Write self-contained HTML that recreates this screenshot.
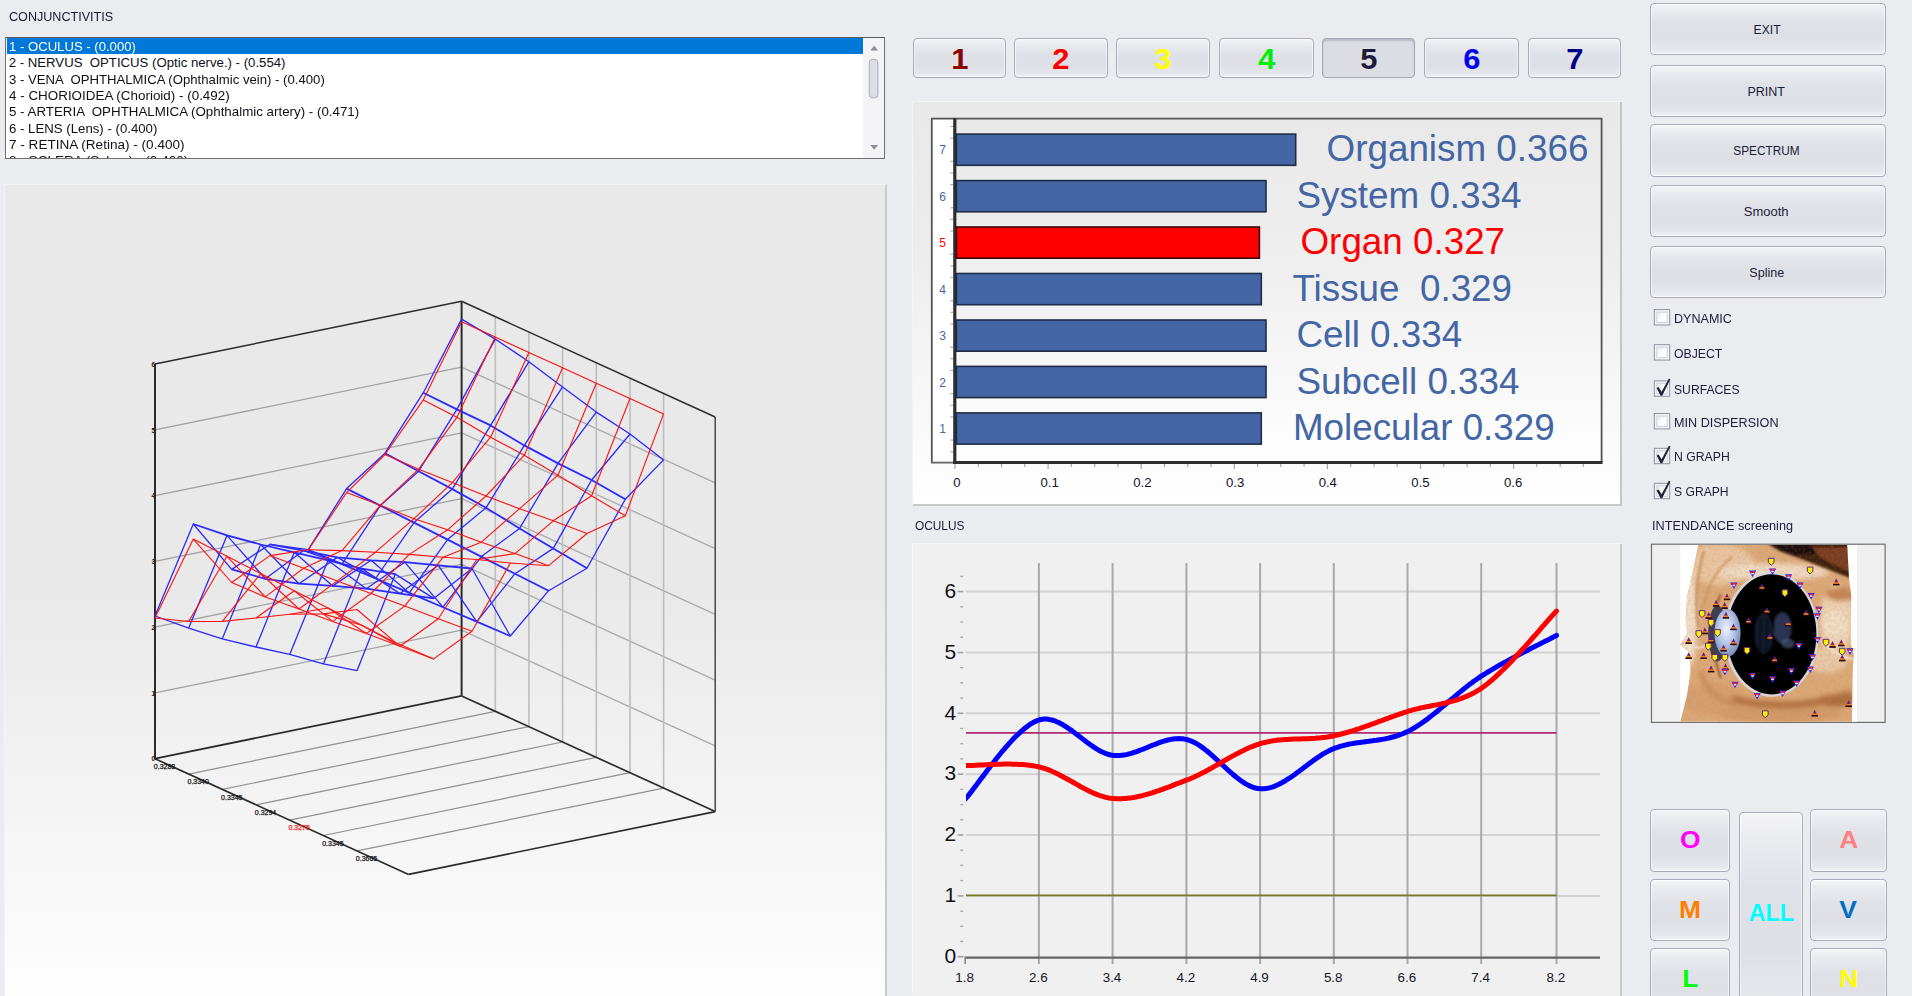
<!DOCTYPE html>
<html><head><meta charset="utf-8"><title>OCULUS</title>
<style>
html,body{margin:0;padding:0}
body{width:1912px;height:996px;overflow:hidden;position:relative;background:#ebecf0;font-family:"Liberation Sans",sans-serif}
.t{position:absolute;white-space:pre;font-family:"Liberation Sans",sans-serif}
.abs{position:absolute}
.btn{position:absolute;box-sizing:border-box;border:1px solid #a9acba;border-radius:4px;text-align:center;
 background:linear-gradient(#f5f5f8 0%,#ebecf0 12%,#dfe1e8 40%,#dee0e6 70%,#e6e7ec 92%,#f2f2f5 100%);
 box-shadow:inset 0 0 0 1px rgba(255,255,255,.55);font-family:"Liberation Sans",sans-serif;overflow:hidden}
.btn.pressed{background:#dcdde2;border-color:#a4a7b4;box-shadow:inset 0 2px 2px rgba(120,124,140,.35)}
svg{position:absolute;left:0;top:0;overflow:visible}
</style></head><body>

<div class="t" style="left:8.7px;top:8.4px;font-size:13.2px;line-height:17.2px;color:#1a1a2e;font-weight:400;transform:scaleX(0.9544);transform-origin:0 50%;">CONJUNCTIVITIS</div>
<div class="abs" style="left:5px;top:37px;width:880px;height:122px;box-sizing:border-box;border:1px solid #6e6e6e;border-top-color:#5a5a5a;background:#fff;overflow:hidden">
<div class="abs" style="left:1px;top:0.4px;width:857px;height:15.8px;background:#0078d7"></div>
<div class="t" style="left:2.7px;top:0.1px;font-size:13.2px;line-height:17px;color:#fff;transform:scaleX(0.995);transform-origin:0 50%">1 - OCULUS - (0.000)</div>
<div class="t" style="left:2.7px;top:16.4px;font-size:13.2px;line-height:17px;color:#101018;transform:scaleX(1.0);transform-origin:0 50%">2 - NERVUS  OPTICUS (Optic nerve.) - (0.554)</div>
<div class="t" style="left:2.7px;top:32.7px;font-size:13.2px;line-height:17px;color:#101018;transform:scaleX(0.9975);transform-origin:0 50%">3 - VENA  OPHTHALMICA (Ophthalmic vein) - (0.400)</div>
<div class="t" style="left:2.7px;top:49.0px;font-size:13.2px;line-height:17px;color:#101018;transform:scaleX(1.0175);transform-origin:0 50%">4 - CHORIOIDEA (Chorioid) - (0.492)</div>
<div class="t" style="left:2.7px;top:65.3px;font-size:13.2px;line-height:17px;color:#101018;transform:scaleX(1.011);transform-origin:0 50%">5 - ARTERIA  OPHTHALMICA (Ophthalmic artery) - (0.471)</div>
<div class="t" style="left:2.7px;top:81.6px;font-size:13.2px;line-height:17px;color:#101018;transform:scaleX(1.002);transform-origin:0 50%">6 - LENS (Lens) - (0.400)</div>
<div class="t" style="left:2.7px;top:97.9px;font-size:13.2px;line-height:17px;color:#101018;transform:scaleX(1.028);transform-origin:0 50%">7 - RETINA (Retina) - (0.400)</div>
<div class="t" style="left:2.7px;top:114.2px;font-size:13.2px;line-height:17px;color:#101018;transform:scaleX(1.028);transform-origin:0 50%">8 - SCLERA (Sclera) - (0.400)</div>
<div class="abs" style="left:857px;top:0;width:22px;height:120px;background:#f4f4f7"></div>
<svg width="880" height="122" viewBox="5 37 880 122" style="left:-1px;top:-1px"><path d="M870.3 50.5 L874.2 45.8 L878.1 50.5 Z" fill="#8a8d9a"/><path d="M870.3 145 L874.2 149.7 L878.1 145 Z" fill="#8a8d9a"/><rect x="869.3" y="59.3" width="8.6" height="38.6" rx="3.5" fill="#dddee4" stroke="#a9acb8" stroke-width="1"/></svg>
</div>
<div class="abs" style="left:4px;top:184px;width:880px;height:812px;background:linear-gradient(#e9e9e9 0%,#e9e9e9 50%,#ffffff 102.4%);border-left:1px solid #f3f3f3;border-top:1px solid #f3f3f3;border-right:2px solid #cbcbcb;box-sizing:content-box"></div>
<svg width="1912" height="996" viewBox="0 0 1912 996">
<line x1="155.0" y1="692.9" x2="461.6" y2="630.1" stroke="#a2a2a2" stroke-width="1.3" />
<line x1="461.6" y1="630.1" x2="715.2" y2="745.8" stroke="#ababab" stroke-width="1.3" />
<line x1="155.0" y1="627.2" x2="461.6" y2="564.4" stroke="#a2a2a2" stroke-width="1.3" />
<line x1="461.6" y1="564.4" x2="715.2" y2="680.1" stroke="#ababab" stroke-width="1.3" />
<line x1="155.0" y1="561.4" x2="461.6" y2="498.6" stroke="#a2a2a2" stroke-width="1.3" />
<line x1="461.6" y1="498.6" x2="715.2" y2="614.3" stroke="#ababab" stroke-width="1.3" />
<line x1="155.0" y1="495.7" x2="461.6" y2="432.9" stroke="#a2a2a2" stroke-width="1.3" />
<line x1="461.6" y1="432.9" x2="715.2" y2="548.6" stroke="#ababab" stroke-width="1.3" />
<line x1="155.0" y1="429.9" x2="461.6" y2="367.1" stroke="#a2a2a2" stroke-width="1.3" />
<line x1="461.6" y1="367.1" x2="715.2" y2="482.8" stroke="#ababab" stroke-width="1.3" />
<line x1="495.3" y1="711.3" x2="495.3" y2="316.7" stroke="#bdbdbd" stroke-width="1.6" />
<line x1="188.7" y1="774.1" x2="495.3" y2="711.3" stroke="#909090" stroke-width="1.2" />
<line x1="528.9" y1="726.6" x2="528.9" y2="332.1" stroke="#bdbdbd" stroke-width="1.6" />
<line x1="222.3" y1="789.4" x2="528.9" y2="726.6" stroke="#909090" stroke-width="1.2" />
<line x1="562.6" y1="742.0" x2="562.6" y2="347.4" stroke="#bdbdbd" stroke-width="1.6" />
<line x1="256.0" y1="804.8" x2="562.6" y2="742.0" stroke="#909090" stroke-width="1.2" />
<line x1="596.3" y1="757.3" x2="596.3" y2="362.8" stroke="#bdbdbd" stroke-width="1.6" />
<line x1="289.7" y1="820.1" x2="596.3" y2="757.3" stroke="#909090" stroke-width="1.2" />
<line x1="630.0" y1="772.7" x2="630.0" y2="378.1" stroke="#bdbdbd" stroke-width="1.6" />
<line x1="323.4" y1="835.5" x2="630.0" y2="772.7" stroke="#909090" stroke-width="1.2" />
<line x1="663.6" y1="788.1" x2="663.6" y2="393.5" stroke="#bdbdbd" stroke-width="1.6" />
<line x1="357.0" y1="850.9" x2="663.6" y2="788.1" stroke="#909090" stroke-width="1.2" />
<line x1="155.0" y1="758.7" x2="155.0" y2="364.1" stroke="#2b2b2b" stroke-width="2.0" />
<line x1="461.6" y1="695.9" x2="461.6" y2="301.3" stroke="#2b2b2b" stroke-width="2.0" />
<line x1="715.2" y1="811.6" x2="715.2" y2="417.0" stroke="#3c3c3c" stroke-width="1.4" />
<line x1="155.0" y1="364.1" x2="461.6" y2="301.3" stroke="#2b2b2b" stroke-width="1.5" />
<line x1="461.6" y1="301.3" x2="715.2" y2="417.0" stroke="#2b2b2b" stroke-width="1.5" />
<line x1="155.0" y1="758.7" x2="461.6" y2="695.9" stroke="#2b2b2b" stroke-width="1.8" />
<line x1="461.6" y1="695.9" x2="715.2" y2="811.6" stroke="#2b2b2b" stroke-width="1.7" />
<line x1="155.0" y1="758.7" x2="408.6" y2="874.4" stroke="#2b2b2b" stroke-width="1.7" />
<line x1="408.6" y1="874.4" x2="715.2" y2="811.6" stroke="#2b2b2b" stroke-width="1.6" />
<polyline points="155.0,616.0 193.3,524.0 231.7,569.4 270.0,544.4 308.3,549.7 346.6,488.6 385.0,453.2 423.3,392.7 461.6,319.1" fill="none" stroke="#2a2aff" stroke-width="1.3" stroke-linejoin="round"/>
<polyline points="188.7,628.1 227.0,535.4 265.3,578.8 303.6,550.6 342.0,564.1 380.3,505.6 418.6,471.2 456.9,409.4 495.3,339.1" fill="none" stroke="#2a2aff" stroke-width="1.3" stroke-linejoin="round"/>
<polyline points="222.3,638.8 260.7,544.5 299.0,583.7 337.3,557.4 375.6,578.5 414.0,522.6 452.3,489.1 490.6,425.4 528.9,361.7" fill="none" stroke="#2a2aff" stroke-width="1.3" stroke-linejoin="round"/>
<polyline points="256.0,647.0 294.3,552.3 332.7,585.9 371.0,560.3 409.3,592.9 447.6,539.6 486.0,507.8 524.3,445.4 562.6,386.9" fill="none" stroke="#2a2aff" stroke-width="1.3" stroke-linejoin="round"/>
<polyline points="289.7,654.4 328.0,560.4 366.3,588.7 404.7,562.2 443.0,607.2 481.3,556.6 519.6,528.4 558.0,463.4 596.3,412.1" fill="none" stroke="#2a2aff" stroke-width="1.3" stroke-linejoin="round"/>
<polyline points="323.4,663.9 361.7,568.6 400.0,593.6 438.3,565.3 476.7,621.6 515.0,573.7 553.3,548.4 591.6,480.0 630.0,434.0" fill="none" stroke="#2a2aff" stroke-width="1.3" stroke-linejoin="round"/>
<polyline points="357.0,670.7 395.3,574.1 433.7,598.4 472.0,568.5 510.3,636.0 548.6,590.7 587.0,568.3 625.3,499.3 663.6,459.9" fill="none" stroke="#2a2aff" stroke-width="1.3" stroke-linejoin="round"/>
<polyline points="155.0,616.0 188.7,628.1 222.3,638.8 256.0,647.0 289.7,654.4 323.4,663.9 357.0,670.7" fill="none" stroke="#2a2aff" stroke-width="1.30" stroke-linejoin="round"/>
<polyline points="193.3,524.0 227.0,535.4 260.7,544.5 294.3,552.3 328.0,560.4 361.7,568.6 395.3,574.1" fill="none" stroke="#2a2aff" stroke-width="1.76" stroke-linejoin="round"/>
<polyline points="231.7,569.4 265.3,578.8 299.0,583.7 332.7,585.9 366.3,588.7 400.0,593.6 433.7,598.4" fill="none" stroke="#2a2aff" stroke-width="1.76" stroke-linejoin="round"/>
<polyline points="270.0,544.4 303.6,550.6 337.3,557.4 371.0,560.3 404.7,562.2 438.3,565.3 472.0,568.5" fill="none" stroke="#2a2aff" stroke-width="1.76" stroke-linejoin="round"/>
<polyline points="308.3,549.7 342.0,564.1 375.6,578.5 409.3,592.9 443.0,607.2 476.7,621.6 510.3,636.0" fill="none" stroke="#2a2aff" stroke-width="1.76" stroke-linejoin="round"/>
<polyline points="346.6,488.6 380.3,505.6 414.0,522.6 447.6,539.6 481.3,556.6 515.0,573.7 548.6,590.7" fill="none" stroke="#2a2aff" stroke-width="1.76" stroke-linejoin="round"/>
<polyline points="385.0,453.2 418.6,471.2 452.3,489.1 486.0,507.8 519.6,528.4 553.3,548.4 587.0,568.3" fill="none" stroke="#2a2aff" stroke-width="1.76" stroke-linejoin="round"/>
<polyline points="423.3,392.7 456.9,409.4 490.6,425.4 524.3,445.4 558.0,463.4 591.6,480.0 625.3,499.3" fill="none" stroke="#2a2aff" stroke-width="1.76" stroke-linejoin="round"/>
<polyline points="461.6,319.1 495.3,339.1 528.9,361.7 562.6,386.9 596.3,412.1 630.0,434.0 663.6,459.9" fill="none" stroke="#2a2aff" stroke-width="1.30" stroke-linejoin="round"/>
<polyline points="155.0,618.0 193.3,539.1 231.7,582.5 270.0,555.6 308.3,549.7 346.6,492.6 385.0,454.5 423.3,399.9 461.6,321.7" fill="none" stroke="#ff1010" stroke-width="1.1" stroke-linejoin="round"/>
<polyline points="188.7,621.5 227.0,556.3 265.3,596.9 303.6,568.2 342.0,550.6 380.3,505.3 418.6,469.2 456.9,417.3 495.3,337.1" fill="none" stroke="#ff1010" stroke-width="1.1" stroke-linejoin="round"/>
<polyline points="222.3,621.4 260.7,573.5 299.0,609.0 337.3,580.9 375.6,552.2 414.0,518.7 452.3,482.6 490.6,437.2 528.9,352.4" fill="none" stroke="#ff1010" stroke-width="1.1" stroke-linejoin="round"/>
<polyline points="256.0,618.0 294.3,590.8 332.7,621.4 371.0,593.5 409.3,554.4 447.6,529.8 486.0,496.0 524.3,455.2 562.6,367.8" fill="none" stroke="#ff1010" stroke-width="1.1" stroke-linejoin="round"/>
<polyline points="289.7,614.3 328.0,608.0 366.3,633.5 404.7,606.1 443.0,557.3 481.3,542.2 519.6,508.7 558.0,475.2 596.3,383.2" fill="none" stroke="#ff1010" stroke-width="1.1" stroke-linejoin="round"/>
<polyline points="323.4,613.9 361.7,625.2 400.0,646.2 438.3,618.7 476.7,559.5 515.0,553.6 553.3,520.8 591.6,495.8 630.0,398.5" fill="none" stroke="#ff1010" stroke-width="1.1" stroke-linejoin="round"/>
<polyline points="357.0,609.5 395.3,642.4 433.7,658.9 472.0,631.3 510.3,563.0 548.6,565.7 587.0,533.5 625.3,515.8 663.6,413.9" fill="none" stroke="#ff1010" stroke-width="1.1" stroke-linejoin="round"/>
<polyline points="155.0,618.0 188.7,621.5 222.3,621.4 256.0,618.0 289.7,614.3 323.4,613.9 357.0,609.5" fill="none" stroke="#ff1010" stroke-width="1.10" stroke-linejoin="round"/>
<polyline points="193.3,539.1 227.0,556.3 260.7,573.5 294.3,590.8 328.0,608.0 361.7,625.2 395.3,642.4" fill="none" stroke="#ff1010" stroke-width="1.10" stroke-linejoin="round"/>
<polyline points="231.7,582.5 265.3,596.9 299.0,609.0 332.7,621.4 366.3,633.5 400.0,646.2 433.7,658.9" fill="none" stroke="#ff1010" stroke-width="1.10" stroke-linejoin="round"/>
<polyline points="270.0,555.6 303.6,568.2 337.3,580.9 371.0,593.5 404.7,606.1 438.3,618.7 472.0,631.3" fill="none" stroke="#ff1010" stroke-width="1.10" stroke-linejoin="round"/>
<polyline points="308.3,549.7 342.0,550.6 375.6,552.2 409.3,554.4 443.0,557.3 476.7,559.5 510.3,563.0" fill="none" stroke="#ff1010" stroke-width="1.10" stroke-linejoin="round"/>
<polyline points="346.6,492.6 380.3,505.3 414.0,518.7 447.6,529.8 481.3,542.2 515.0,553.6 548.6,565.7" fill="none" stroke="#ff1010" stroke-width="1.10" stroke-linejoin="round"/>
<polyline points="385.0,454.5 418.6,469.2 452.3,482.6 486.0,496.0 519.6,508.7 553.3,520.8 587.0,533.5" fill="none" stroke="#ff1010" stroke-width="1.10" stroke-linejoin="round"/>
<polyline points="423.3,399.9 456.9,417.3 490.6,437.2 524.3,455.2 558.0,475.2 591.6,495.8 625.3,515.8" fill="none" stroke="#ff1010" stroke-width="1.10" stroke-linejoin="round"/>
<polyline points="461.6,321.7 495.3,337.1 528.9,352.4 562.6,367.8 596.3,383.2 630.0,398.5 663.6,413.9" fill="none" stroke="#ff1010" stroke-width="1.10" stroke-linejoin="round"/>
<text x="153.8" y="768.9" font-size="7" fill="#161616" stroke="#161616" stroke-width="0.25" font-family='"Liberation Sans", sans-serif'>0.3288</text>
<text x="187.5" y="784.3" font-size="7" fill="#161616" stroke="#161616" stroke-width="0.25" font-family='"Liberation Sans", sans-serif'>0.3340</text>
<text x="221.1" y="799.6" font-size="7" fill="#161616" stroke="#161616" stroke-width="0.25" font-family='"Liberation Sans", sans-serif'>0.3345</text>
<text x="254.8" y="815.0" font-size="7" fill="#161616" stroke="#161616" stroke-width="0.25" font-family='"Liberation Sans", sans-serif'>0.3294</text>
<text x="288.5" y="830.3" font-size="7" fill="#ff2020" stroke="#ff2020" stroke-width="0.25" font-family='"Liberation Sans", sans-serif'>0.3275</text>
<text x="322.2" y="845.7" font-size="7" fill="#161616" stroke="#161616" stroke-width="0.25" font-family='"Liberation Sans", sans-serif'>0.3345</text>
<text x="355.8" y="861.1" font-size="7" fill="#161616" stroke="#161616" stroke-width="0.25" font-family='"Liberation Sans", sans-serif'>0.3665</text>
<text x="151.4" y="761.3" font-size="6.5" font-weight="700" fill="#1a1a1a" font-family='"Liberation Sans", sans-serif'>0</text>
<text x="151.4" y="695.5" font-size="6.5" font-weight="700" fill="#1a1a1a" font-family='"Liberation Sans", sans-serif'>1</text>
<text x="151.4" y="629.8" font-size="6.5" font-weight="700" fill="#1a1a1a" font-family='"Liberation Sans", sans-serif'>2</text>
<text x="151.4" y="564.0" font-size="6.5" font-weight="700" fill="#1a1a1a" font-family='"Liberation Sans", sans-serif'>3</text>
<text x="151.4" y="498.3" font-size="6.5" font-weight="700" fill="#1a1a1a" font-family='"Liberation Sans", sans-serif'>4</text>
<text x="151.4" y="432.5" font-size="6.5" font-weight="700" fill="#1a1a1a" font-family='"Liberation Sans", sans-serif'>5</text>
<text x="151.4" y="366.7" font-size="6.5" font-weight="700" fill="#1a1a1a" font-family='"Liberation Sans", sans-serif'>6</text>
</svg>
<div class="btn" style="left:913px;top:38px;width:93px;height:40px;line-height:40px"><span style="color:#8b0000;font-size:28.6px;font-weight:700;display:inline-block;transform:translate(0px,-0.4px) scaleX(1.08)">1</span></div>
<div class="btn" style="left:1014px;top:38px;width:94px;height:40px;line-height:40px"><span style="color:#ff0000;font-size:28.6px;font-weight:700;display:inline-block;transform:translate(0px,-0.4px) scaleX(1.08)">2</span></div>
<div class="btn" style="left:1116px;top:38px;width:94px;height:40px;line-height:40px"><span style="color:#ffff00;font-size:28.6px;font-weight:700;display:inline-block;transform:translate(0px,-0.4px) scaleX(1.08)">3</span></div>
<div class="btn" style="left:1219px;top:38px;width:95px;height:40px;line-height:40px"><span style="color:#00ee00;font-size:28.6px;font-weight:700;display:inline-block;transform:translate(0px,-0.4px) scaleX(1.08)">4</span></div>
<div class="btn pressed" style="left:1322px;top:38px;width:93px;height:40px;line-height:40px"><span style="color:#1c1c3a;font-size:28.6px;font-weight:700;display:inline-block;transform:translate(0px,-0.4px) scaleX(1.08)">5</span></div>
<div class="btn" style="left:1424px;top:38px;width:95px;height:40px;line-height:40px"><span style="color:#0000ee;font-size:28.6px;font-weight:700;display:inline-block;transform:translate(0px,-0.4px) scaleX(1.08)">6</span></div>
<div class="btn" style="left:1528px;top:38px;width:93px;height:40px;line-height:40px"><span style="color:#00008b;font-size:28.6px;font-weight:700;display:inline-block;transform:translate(0px,-0.4px) scaleX(1.08)">7</span></div>
<div class="abs" style="left:913px;top:102px;width:707.4px;height:401.5px;background:linear-gradient(#e9e9e9 0%,#ececec 35%,#ffffff 100%);border-right:2px solid #c6c6c6;border-bottom:2px solid #c9c9c9;box-shadow:-1px -1px 0 #f4f4f4"></div>
<svg width="1912" height="996" viewBox="0 0 1912 996">
<defs><linearGradient id="pg" x1="0" y1="0" x2="0" y2="1"><stop offset="0" stop-color="#e9e9e9"/><stop offset="0.45" stop-color="#efefef"/><stop offset="1" stop-color="#ffffff"/></linearGradient></defs>
<rect x="931" y="118" width="671" height="344" fill="url(#pg)"/>
<rect x="932" y="119" width="22" height="343" fill="#ffffff"/>
<path d="M931.8 463 L931.8 118.6 L1601.6 118.6 L1601.6 463" fill="none" stroke="#555" stroke-width="1.8"/>
<line x1="931" y1="462.6" x2="954" y2="462.6" stroke="#666" stroke-width="1.8"/>
<line x1="950.2" y1="126.5" x2="953.5" y2="126.5" stroke="#b2b2b2" stroke-width="1.2"/>
<line x1="950.2" y1="138.1" x2="953.5" y2="138.1" stroke="#b2b2b2" stroke-width="1.2"/>
<line x1="950.2" y1="161.3" x2="953.5" y2="161.3" stroke="#b2b2b2" stroke-width="1.2"/>
<line x1="950.2" y1="172.9" x2="953.5" y2="172.9" stroke="#b2b2b2" stroke-width="1.2"/>
<line x1="950.2" y1="184.6" x2="953.5" y2="184.6" stroke="#b2b2b2" stroke-width="1.2"/>
<line x1="950.2" y1="207.8" x2="953.5" y2="207.8" stroke="#b2b2b2" stroke-width="1.2"/>
<line x1="950.2" y1="219.4" x2="953.5" y2="219.4" stroke="#b2b2b2" stroke-width="1.2"/>
<line x1="950.2" y1="231.0" x2="953.5" y2="231.0" stroke="#b2b2b2" stroke-width="1.2"/>
<line x1="950.2" y1="254.3" x2="953.5" y2="254.3" stroke="#b2b2b2" stroke-width="1.2"/>
<line x1="950.2" y1="265.9" x2="953.5" y2="265.9" stroke="#b2b2b2" stroke-width="1.2"/>
<line x1="950.2" y1="277.5" x2="953.5" y2="277.5" stroke="#b2b2b2" stroke-width="1.2"/>
<line x1="950.2" y1="300.7" x2="953.5" y2="300.7" stroke="#b2b2b2" stroke-width="1.2"/>
<line x1="950.2" y1="312.3" x2="953.5" y2="312.3" stroke="#b2b2b2" stroke-width="1.2"/>
<line x1="950.2" y1="324.0" x2="953.5" y2="324.0" stroke="#b2b2b2" stroke-width="1.2"/>
<line x1="950.2" y1="347.2" x2="953.5" y2="347.2" stroke="#b2b2b2" stroke-width="1.2"/>
<line x1="950.2" y1="358.8" x2="953.5" y2="358.8" stroke="#b2b2b2" stroke-width="1.2"/>
<line x1="950.2" y1="370.4" x2="953.5" y2="370.4" stroke="#b2b2b2" stroke-width="1.2"/>
<line x1="950.2" y1="393.7" x2="953.5" y2="393.7" stroke="#b2b2b2" stroke-width="1.2"/>
<line x1="950.2" y1="405.3" x2="953.5" y2="405.3" stroke="#b2b2b2" stroke-width="1.2"/>
<line x1="950.2" y1="416.9" x2="953.5" y2="416.9" stroke="#b2b2b2" stroke-width="1.2"/>
<line x1="950.2" y1="440.1" x2="953.5" y2="440.1" stroke="#b2b2b2" stroke-width="1.2"/>
<line x1="950.2" y1="451.8" x2="953.5" y2="451.8" stroke="#b2b2b2" stroke-width="1.2"/>
<line x1="954.8" y1="118" x2="954.8" y2="464" stroke="#2e2e2e" stroke-width="3.2"/>
<line x1="953.2" y1="462.6" x2="1602.5" y2="462.6" stroke="#2e2e2e" stroke-width="3"/>
<rect x="956.4" y="134.1" width="339.3" height="31.2" fill="#4466a5" stroke="#1f2c48" stroke-width="1.6"/>
<text x="1326.6" y="161.3" font-size="36.8" fill="#4466a5" font-family='"Liberation Sans", sans-serif'>Organism 0.366</text>
<text x="942.5" y="154.3" font-size="12" text-anchor="middle" fill="#4466a5" font-family='"Liberation Sans", sans-serif'>7</text>
<rect x="956.4" y="180.6" width="309.6" height="31.2" fill="#4466a5" stroke="#1f2c48" stroke-width="1.6"/>
<text x="1296.5" y="207.8" font-size="36.8" fill="#4466a5" font-family='"Liberation Sans", sans-serif'>System 0.334</text>
<text x="942.5" y="200.8" font-size="12" text-anchor="middle" fill="#4466a5" font-family='"Liberation Sans", sans-serif'>6</text>
<rect x="956.4" y="227.0" width="303.0" height="31.2" fill="#ff0000" stroke="#3a0a0a" stroke-width="1.6"/>
<text x="1300.5" y="254.2" font-size="36.8" fill="#ff0000" font-family='"Liberation Sans", sans-serif'>Organ 0.327</text>
<text x="942.5" y="247.2" font-size="12" text-anchor="middle" fill="#ff0000" font-family='"Liberation Sans", sans-serif'>5</text>
<rect x="956.4" y="273.5" width="304.9" height="31.2" fill="#4466a5" stroke="#1f2c48" stroke-width="1.6"/>
<text x="1292.5" y="300.7" font-size="36.8" fill="#4466a5" font-family='"Liberation Sans", sans-serif'>Tissue&#160;&#160;0.329</text>
<text x="942.5" y="293.7" font-size="12" text-anchor="middle" fill="#4466a5" font-family='"Liberation Sans", sans-serif'>4</text>
<rect x="956.4" y="320.0" width="309.6" height="31.2" fill="#4466a5" stroke="#1f2c48" stroke-width="1.6"/>
<text x="1296.5" y="347.2" font-size="36.8" fill="#4466a5" font-family='"Liberation Sans", sans-serif'>Cell 0.334</text>
<text x="942.5" y="340.2" font-size="12" text-anchor="middle" fill="#4466a5" font-family='"Liberation Sans", sans-serif'>3</text>
<rect x="956.4" y="366.4" width="309.6" height="31.2" fill="#4466a5" stroke="#1f2c48" stroke-width="1.6"/>
<text x="1296.5" y="393.6" font-size="36.8" fill="#4466a5" font-family='"Liberation Sans", sans-serif'>Subcell 0.334</text>
<text x="942.5" y="386.6" font-size="12" text-anchor="middle" fill="#4466a5" font-family='"Liberation Sans", sans-serif'>2</text>
<rect x="956.4" y="412.9" width="304.9" height="31.2" fill="#4466a5" stroke="#1f2c48" stroke-width="1.6"/>
<text x="1292.9" y="440.1" font-size="36.8" fill="#4466a5" font-family='"Liberation Sans", sans-serif'>Molecular 0.329</text>
<text x="942.5" y="433.1" font-size="12" text-anchor="middle" fill="#4466a5" font-family='"Liberation Sans", sans-serif'>1</text>
<line x1="955.0" y1="464" x2="955.0" y2="469" stroke="#a6a6a6" stroke-width="1.2"/>
<line x1="978.3" y1="464" x2="978.3" y2="467" stroke="#a6a6a6" stroke-width="1.2"/>
<line x1="1001.5" y1="464" x2="1001.5" y2="467" stroke="#a6a6a6" stroke-width="1.2"/>
<line x1="1024.8" y1="464" x2="1024.8" y2="467" stroke="#a6a6a6" stroke-width="1.2"/>
<line x1="1048.1" y1="464" x2="1048.1" y2="469" stroke="#a6a6a6" stroke-width="1.2"/>
<line x1="1071.4" y1="464" x2="1071.4" y2="467" stroke="#a6a6a6" stroke-width="1.2"/>
<line x1="1094.7" y1="464" x2="1094.7" y2="467" stroke="#a6a6a6" stroke-width="1.2"/>
<line x1="1117.9" y1="464" x2="1117.9" y2="467" stroke="#a6a6a6" stroke-width="1.2"/>
<line x1="1141.2" y1="464" x2="1141.2" y2="469" stroke="#a6a6a6" stroke-width="1.2"/>
<line x1="1164.5" y1="464" x2="1164.5" y2="467" stroke="#a6a6a6" stroke-width="1.2"/>
<line x1="1187.8" y1="464" x2="1187.8" y2="467" stroke="#a6a6a6" stroke-width="1.2"/>
<line x1="1211.0" y1="464" x2="1211.0" y2="467" stroke="#a6a6a6" stroke-width="1.2"/>
<line x1="1234.3" y1="464" x2="1234.3" y2="469" stroke="#a6a6a6" stroke-width="1.2"/>
<line x1="1257.6" y1="464" x2="1257.6" y2="467" stroke="#a6a6a6" stroke-width="1.2"/>
<line x1="1280.8" y1="464" x2="1280.8" y2="467" stroke="#a6a6a6" stroke-width="1.2"/>
<line x1="1304.1" y1="464" x2="1304.1" y2="467" stroke="#a6a6a6" stroke-width="1.2"/>
<line x1="1327.4" y1="464" x2="1327.4" y2="469" stroke="#a6a6a6" stroke-width="1.2"/>
<line x1="1350.7" y1="464" x2="1350.7" y2="467" stroke="#a6a6a6" stroke-width="1.2"/>
<line x1="1374.0" y1="464" x2="1374.0" y2="467" stroke="#a6a6a6" stroke-width="1.2"/>
<line x1="1397.2" y1="464" x2="1397.2" y2="467" stroke="#a6a6a6" stroke-width="1.2"/>
<line x1="1420.5" y1="464" x2="1420.5" y2="469" stroke="#a6a6a6" stroke-width="1.2"/>
<line x1="1443.8" y1="464" x2="1443.8" y2="467" stroke="#a6a6a6" stroke-width="1.2"/>
<line x1="1467.1" y1="464" x2="1467.1" y2="467" stroke="#a6a6a6" stroke-width="1.2"/>
<line x1="1490.3" y1="464" x2="1490.3" y2="467" stroke="#a6a6a6" stroke-width="1.2"/>
<line x1="1513.6" y1="464" x2="1513.6" y2="469" stroke="#a6a6a6" stroke-width="1.2"/>
<line x1="1536.9" y1="464" x2="1536.9" y2="467" stroke="#a6a6a6" stroke-width="1.2"/>
<line x1="1560.2" y1="464" x2="1560.2" y2="467" stroke="#a6a6a6" stroke-width="1.2"/>
<line x1="1583.4" y1="464" x2="1583.4" y2="467" stroke="#a6a6a6" stroke-width="1.2"/>
<text x="957.0" y="486.6" font-size="13.2" text-anchor="middle" fill="#15152a" font-family='"Liberation Sans", sans-serif'>0</text>
<text x="1049.7" y="486.6" font-size="13.2" text-anchor="middle" fill="#15152a" font-family='"Liberation Sans", sans-serif'>0.1</text>
<text x="1142.4" y="486.6" font-size="13.2" text-anchor="middle" fill="#15152a" font-family='"Liberation Sans", sans-serif'>0.2</text>
<text x="1235.1" y="486.6" font-size="13.2" text-anchor="middle" fill="#15152a" font-family='"Liberation Sans", sans-serif'>0.3</text>
<text x="1327.8" y="486.6" font-size="13.2" text-anchor="middle" fill="#15152a" font-family='"Liberation Sans", sans-serif'>0.4</text>
<text x="1420.5" y="486.6" font-size="13.2" text-anchor="middle" fill="#15152a" font-family='"Liberation Sans", sans-serif'>0.5</text>
<text x="1513.2" y="486.6" font-size="13.2" text-anchor="middle" fill="#15152a" font-family='"Liberation Sans", sans-serif'>0.6</text>
</svg>
<div class="t" style="left:915px;top:517.1px;font-size:13.2px;line-height:17.2px;color:#1a1a2e;font-weight:400;transform:scaleX(0.8997);transform-origin:0 50%;">OCULUS</div>
<div class="abs" style="left:913px;top:544px;width:707.4px;height:452px;background:#f0f0f0;border-right:2px solid #cacaca;box-shadow:-1px -1px 0 #f6f6f6"></div>
<svg width="1912" height="996" viewBox="0 0 1912 996">
<defs><clipPath id="lcclip"><rect x="966" y="545" width="655" height="451"/></clipPath></defs>
<line x1="966" y1="895.9" x2="1600" y2="895.9" stroke="#d2d2d2" stroke-width="2"/>
<line x1="966" y1="835.0" x2="1600" y2="835.0" stroke="#d2d2d2" stroke-width="2"/>
<line x1="966" y1="774.2" x2="1600" y2="774.2" stroke="#d2d2d2" stroke-width="2"/>
<line x1="966" y1="713.3" x2="1600" y2="713.3" stroke="#d2d2d2" stroke-width="2"/>
<line x1="966" y1="652.5" x2="1600" y2="652.5" stroke="#d2d2d2" stroke-width="2"/>
<line x1="966" y1="591.6" x2="1600" y2="591.6" stroke="#d2d2d2" stroke-width="2"/>
<line x1="1038.9" y1="563" x2="1038.9" y2="964" stroke="#a9a9a9" stroke-width="2"/>
<line x1="1112.6" y1="563" x2="1112.6" y2="964" stroke="#a9a9a9" stroke-width="2"/>
<line x1="1186.4" y1="563" x2="1186.4" y2="964" stroke="#a9a9a9" stroke-width="2"/>
<line x1="1260.1" y1="563" x2="1260.1" y2="964" stroke="#a9a9a9" stroke-width="2"/>
<line x1="1333.8" y1="563" x2="1333.8" y2="964" stroke="#a9a9a9" stroke-width="2"/>
<line x1="1407.5" y1="563" x2="1407.5" y2="964" stroke="#a9a9a9" stroke-width="2"/>
<line x1="1481.2" y1="563" x2="1481.2" y2="964" stroke="#a9a9a9" stroke-width="2"/>
<line x1="1556.5" y1="563" x2="1556.5" y2="964" stroke="#a9a9a9" stroke-width="2"/>
<line x1="957.6" y1="956.7" x2="963.4" y2="956.7" stroke="#a0a0a0" stroke-width="1.6"/>
<text x="956.3" y="962.9" font-size="21" text-anchor="end" fill="#111118" font-family='"Liberation Sans", sans-serif'>0</text>
<line x1="960.3" y1="941.5" x2="963.2" y2="941.5" stroke="#a8a8a8" stroke-width="1.4"/>
<line x1="960.3" y1="926.3" x2="963.2" y2="926.3" stroke="#a8a8a8" stroke-width="1.4"/>
<line x1="960.3" y1="911.1" x2="963.2" y2="911.1" stroke="#a8a8a8" stroke-width="1.4"/>
<line x1="957.6" y1="895.9" x2="963.4" y2="895.9" stroke="#a0a0a0" stroke-width="1.6"/>
<text x="956.3" y="902.1" font-size="21" text-anchor="end" fill="#111118" font-family='"Liberation Sans", sans-serif'>1</text>
<line x1="960.3" y1="880.6" x2="963.2" y2="880.6" stroke="#a8a8a8" stroke-width="1.4"/>
<line x1="960.3" y1="865.4" x2="963.2" y2="865.4" stroke="#a8a8a8" stroke-width="1.4"/>
<line x1="960.3" y1="850.2" x2="963.2" y2="850.2" stroke="#a8a8a8" stroke-width="1.4"/>
<line x1="957.6" y1="835.0" x2="963.4" y2="835.0" stroke="#a0a0a0" stroke-width="1.6"/>
<text x="956.3" y="841.2" font-size="21" text-anchor="end" fill="#111118" font-family='"Liberation Sans", sans-serif'>2</text>
<line x1="960.3" y1="819.8" x2="963.2" y2="819.8" stroke="#a8a8a8" stroke-width="1.4"/>
<line x1="960.3" y1="804.6" x2="963.2" y2="804.6" stroke="#a8a8a8" stroke-width="1.4"/>
<line x1="960.3" y1="789.4" x2="963.2" y2="789.4" stroke="#a8a8a8" stroke-width="1.4"/>
<line x1="957.6" y1="774.2" x2="963.4" y2="774.2" stroke="#a0a0a0" stroke-width="1.6"/>
<text x="956.3" y="780.4" font-size="21" text-anchor="end" fill="#111118" font-family='"Liberation Sans", sans-serif'>3</text>
<line x1="960.3" y1="758.9" x2="963.2" y2="758.9" stroke="#a8a8a8" stroke-width="1.4"/>
<line x1="960.3" y1="743.7" x2="963.2" y2="743.7" stroke="#a8a8a8" stroke-width="1.4"/>
<line x1="960.3" y1="728.5" x2="963.2" y2="728.5" stroke="#a8a8a8" stroke-width="1.4"/>
<line x1="957.6" y1="713.3" x2="963.4" y2="713.3" stroke="#a0a0a0" stroke-width="1.6"/>
<text x="956.3" y="719.5" font-size="21" text-anchor="end" fill="#111118" font-family='"Liberation Sans", sans-serif'>4</text>
<line x1="960.3" y1="698.1" x2="963.2" y2="698.1" stroke="#a8a8a8" stroke-width="1.4"/>
<line x1="960.3" y1="682.9" x2="963.2" y2="682.9" stroke="#a8a8a8" stroke-width="1.4"/>
<line x1="960.3" y1="667.7" x2="963.2" y2="667.7" stroke="#a8a8a8" stroke-width="1.4"/>
<line x1="957.6" y1="652.5" x2="963.4" y2="652.5" stroke="#a0a0a0" stroke-width="1.6"/>
<text x="956.3" y="658.7" font-size="21" text-anchor="end" fill="#111118" font-family='"Liberation Sans", sans-serif'>5</text>
<line x1="960.3" y1="637.2" x2="963.2" y2="637.2" stroke="#a8a8a8" stroke-width="1.4"/>
<line x1="960.3" y1="622.0" x2="963.2" y2="622.0" stroke="#a8a8a8" stroke-width="1.4"/>
<line x1="960.3" y1="606.8" x2="963.2" y2="606.8" stroke="#a8a8a8" stroke-width="1.4"/>
<line x1="957.6" y1="591.6" x2="963.4" y2="591.6" stroke="#a0a0a0" stroke-width="1.6"/>
<text x="956.3" y="597.8" font-size="21" text-anchor="end" fill="#111118" font-family='"Liberation Sans", sans-serif'>6</text>
<line x1="960.3" y1="576.4" x2="963.2" y2="576.4" stroke="#a8a8a8" stroke-width="1.4"/>
<line x1="964.6" y1="957.7" x2="1600" y2="957.7" stroke="#666" stroke-width="2.2"/>
<line x1="965.2" y1="957" x2="965.2" y2="964" stroke="#8a8a8a" stroke-width="1.6"/>
<text x="964.6" y="981.8" font-size="13.4" text-anchor="middle" fill="#15152a" font-family='"Liberation Sans", sans-serif'>1.8</text>
<text x="1038.3" y="981.8" font-size="13.4" text-anchor="middle" fill="#15152a" font-family='"Liberation Sans", sans-serif'>2.6</text>
<text x="1112.0" y="981.8" font-size="13.4" text-anchor="middle" fill="#15152a" font-family='"Liberation Sans", sans-serif'>3.4</text>
<text x="1185.8" y="981.8" font-size="13.4" text-anchor="middle" fill="#15152a" font-family='"Liberation Sans", sans-serif'>4.2</text>
<text x="1259.5" y="981.8" font-size="13.4" text-anchor="middle" fill="#15152a" font-family='"Liberation Sans", sans-serif'>4.9</text>
<text x="1333.2" y="981.8" font-size="13.4" text-anchor="middle" fill="#15152a" font-family='"Liberation Sans", sans-serif'>5.8</text>
<text x="1406.9" y="981.8" font-size="13.4" text-anchor="middle" fill="#15152a" font-family='"Liberation Sans", sans-serif'>6.6</text>
<text x="1480.6" y="981.8" font-size="13.4" text-anchor="middle" fill="#15152a" font-family='"Liberation Sans", sans-serif'>7.4</text>
<text x="1555.9" y="981.8" font-size="13.4" text-anchor="middle" fill="#15152a" font-family='"Liberation Sans", sans-serif'>8.2</text>
<line x1="966" y1="732.8" x2="1556.5" y2="732.8" stroke="#b02a72" stroke-width="1.8"/>
<line x1="966" y1="895.4" x2="1556.5" y2="895.4" stroke="#77772a" stroke-width="1.8"/>
<polyline points="965.2,799.1 966.2,798.0 967.2,796.8 968.4,795.4 969.6,793.9 970.9,792.2 972.3,790.4 973.7,788.5 975.2,786.5 976.8,784.4 978.4,782.2 980.1,779.9 981.9,777.6 983.7,775.2 985.6,772.7 987.4,770.2 989.4,767.7 991.4,765.1 993.4,762.5 995.4,759.9 997.5,757.3 999.5,754.8 1001.6,752.2 1003.8,749.7 1005.9,747.2 1008.0,744.8 1010.2,742.4 1012.3,740.1 1014.5,737.8 1016.6,735.6 1018.8,733.6 1020.9,731.6 1023.0,729.8 1025.1,728.0 1027.2,726.4 1029.2,724.9 1031.2,723.6 1033.2,722.5 1035.1,721.5 1037.1,720.6 1038.9,720.0 1040.8,719.5 1042.6,719.2 1044.4,719.1 1046.3,719.1 1048.1,719.3 1050.0,719.6 1051.8,720.0 1053.7,720.5 1055.5,721.2 1057.4,722.0 1059.2,722.8 1061.0,723.8 1062.9,724.8 1064.7,725.9 1066.6,727.1 1068.4,728.3 1070.3,729.6 1072.1,730.9 1073.9,732.3 1075.8,733.7 1077.6,735.1 1079.5,736.5 1081.3,737.9 1083.2,739.4 1085.0,740.8 1086.8,742.2 1088.7,743.5 1090.5,744.9 1092.4,746.1 1094.2,747.4 1096.1,748.6 1097.9,749.7 1099.7,750.7 1101.6,751.7 1103.4,752.5 1105.3,753.3 1107.1,754.0 1109.0,754.5 1110.8,755.0 1112.6,755.3 1114.5,755.5 1116.3,755.6 1118.2,755.6 1120.0,755.5 1121.9,755.3 1123.7,755.1 1125.5,754.7 1127.4,754.4 1129.2,753.9 1131.1,753.4 1132.9,752.8 1134.8,752.2 1136.6,751.6 1138.4,750.9 1140.3,750.2 1142.1,749.5 1144.0,748.8 1145.8,748.0 1147.7,747.3 1149.5,746.5 1151.3,745.7 1153.2,745.0 1155.0,744.3 1156.9,743.6 1158.7,742.9 1160.6,742.2 1162.4,741.6 1164.2,741.0 1166.1,740.5 1167.9,740.0 1169.8,739.6 1171.6,739.3 1173.5,739.0 1175.3,738.8 1177.1,738.7 1179.0,738.6 1180.8,738.7 1182.7,738.8 1184.5,739.1 1186.4,739.5 1188.2,740.0 1190.0,740.6 1191.9,741.3 1193.7,742.2 1195.6,743.1 1197.4,744.2 1199.3,745.3 1201.1,746.6 1202.9,747.9 1204.8,749.3 1206.6,750.8 1208.5,752.3 1210.3,753.9 1212.2,755.5 1214.0,757.1 1215.8,758.8 1217.7,760.5 1219.5,762.2 1221.4,763.9 1223.2,765.6 1225.1,767.3 1226.9,769.0 1228.7,770.7 1230.6,772.4 1232.4,774.0 1234.3,775.5 1236.1,777.0 1238.0,778.5 1239.8,779.9 1241.7,781.2 1243.5,782.4 1245.3,783.6 1247.2,784.6 1249.0,785.6 1250.9,786.4 1252.7,787.2 1254.6,787.8 1256.4,788.2 1258.2,788.6 1260.1,788.8 1261.9,788.8 1263.8,788.7 1265.6,788.6 1267.5,788.3 1269.3,787.9 1271.1,787.4 1273.0,786.8 1274.8,786.1 1276.7,785.3 1278.5,784.5 1280.4,783.5 1282.2,782.6 1284.0,781.5 1285.9,780.4 1287.7,779.2 1289.6,778.0 1291.4,776.8 1293.3,775.5 1295.1,774.2 1296.9,772.8 1298.8,771.5 1300.6,770.1 1302.5,768.7 1304.3,767.3 1306.2,765.9 1308.0,764.5 1309.8,763.1 1311.7,761.8 1313.5,760.4 1315.4,759.1 1317.2,757.8 1319.1,756.6 1320.9,755.4 1322.7,754.2 1324.6,753.1 1326.4,752.1 1328.3,751.1 1330.1,750.2 1332.0,749.3 1333.8,748.6 1335.6,747.9 1337.5,747.3 1339.3,746.7 1341.2,746.1 1343.0,745.6 1344.9,745.2 1346.7,744.7 1348.5,744.3 1350.4,743.9 1352.2,743.6 1354.1,743.3 1355.9,743.0 1357.8,742.7 1359.6,742.4 1361.4,742.2 1363.3,742.0 1365.1,741.7 1367.0,741.5 1368.8,741.3 1370.7,741.0 1372.5,740.8 1374.3,740.5 1376.2,740.3 1378.0,740.0 1379.9,739.7 1381.7,739.4 1383.6,739.1 1385.4,738.8 1387.2,738.4 1389.1,738.0 1390.9,737.5 1392.8,737.0 1394.6,736.5 1396.5,736.0 1398.3,735.4 1400.1,734.7 1402.0,734.0 1403.8,733.2 1405.7,732.4 1407.5,731.6 1409.4,730.6 1411.2,729.6 1413.0,728.6 1414.9,727.5 1416.7,726.4 1418.6,725.2 1420.4,724.0 1422.2,722.7 1424.1,721.4 1425.9,720.1 1427.8,718.7 1429.6,717.3 1431.4,715.9 1433.3,714.4 1435.1,713.0 1436.9,711.5 1438.8,710.0 1440.6,708.4 1442.4,706.9 1444.3,705.4 1446.1,703.8 1448.0,702.2 1449.8,700.7 1451.6,699.1 1453.5,697.6 1455.3,696.0 1457.2,694.5 1459.0,692.9 1460.9,691.4 1462.7,689.9 1464.5,688.4 1466.4,686.9 1468.2,685.5 1470.1,684.1 1472.0,682.7 1473.8,681.3 1475.7,680.0 1477.5,678.7 1479.4,677.4 1481.2,676.2 1483.1,675.0 1485.1,673.8 1487.0,672.5 1489.0,671.3 1491.1,670.1 1493.2,668.9 1495.3,667.7 1497.4,666.4 1499.5,665.2 1501.7,664.0 1503.9,662.8 1506.1,661.6 1508.3,660.4 1510.5,659.2 1512.7,658.0 1514.8,656.9 1517.0,655.7 1519.2,654.6 1521.3,653.4 1523.5,652.3 1525.6,651.2 1527.7,650.2 1529.7,649.1 1531.7,648.1 1533.7,647.1 1535.7,646.1 1537.6,645.1 1539.4,644.2 1541.2,643.3 1542.9,642.4 1544.6,641.5 1546.2,640.7 1547.8,639.9 1549.3,639.2 1550.7,638.5 1552.0,637.8 1553.3,637.1 1554.4,636.5 1555.5,635.9 1556.5,635.4" fill="none" stroke="#0000ff" stroke-width="5" stroke-linecap="round" stroke-linejoin="round" clip-path="url(#lcclip)"/>
<polyline points="965.2,765.6 966.2,765.6 967.2,765.6 968.4,765.6 969.6,765.6 970.9,765.5 972.3,765.5 973.7,765.4 975.2,765.3 976.8,765.2 978.4,765.1 980.1,765.0 981.9,764.9 983.7,764.9 985.6,764.8 987.4,764.7 989.4,764.6 991.4,764.5 993.4,764.4 995.4,764.3 997.5,764.3 999.5,764.2 1001.6,764.2 1003.8,764.1 1005.9,764.1 1008.0,764.1 1010.2,764.1 1012.3,764.2 1014.5,764.2 1016.6,764.3 1018.8,764.4 1020.9,764.5 1023.0,764.6 1025.1,764.8 1027.2,765.0 1029.2,765.2 1031.2,765.5 1033.2,765.8 1035.1,766.1 1037.1,766.5 1038.9,766.8 1040.8,767.3 1042.6,767.8 1044.4,768.4 1046.3,769.0 1048.1,769.7 1050.0,770.4 1051.8,771.2 1053.7,772.0 1055.5,772.9 1057.4,773.8 1059.2,774.7 1061.0,775.7 1062.9,776.7 1064.7,777.7 1066.6,778.7 1068.4,779.7 1070.3,780.7 1072.1,781.8 1073.9,782.8 1075.8,783.9 1077.6,784.9 1079.5,786.0 1081.3,787.0 1083.2,788.0 1085.0,788.9 1086.8,789.9 1088.7,790.8 1090.5,791.7 1092.4,792.6 1094.2,793.4 1096.1,794.1 1097.9,794.9 1099.7,795.5 1101.6,796.2 1103.4,796.7 1105.3,797.2 1107.1,797.6 1109.0,798.0 1110.8,798.3 1112.6,798.5 1114.5,798.6 1116.3,798.7 1118.2,798.8 1120.0,798.8 1121.9,798.7 1123.7,798.6 1125.5,798.5 1127.4,798.3 1129.2,798.1 1131.1,797.9 1132.9,797.6 1134.8,797.3 1136.6,796.9 1138.4,796.5 1140.3,796.1 1142.1,795.7 1144.0,795.2 1145.8,794.7 1147.7,794.2 1149.5,793.6 1151.3,793.1 1153.2,792.5 1155.0,791.9 1156.9,791.2 1158.7,790.6 1160.6,790.0 1162.4,789.3 1164.2,788.6 1166.1,787.9 1167.9,787.3 1169.8,786.6 1171.6,785.9 1173.5,785.1 1175.3,784.4 1177.1,783.7 1179.0,783.0 1180.8,782.3 1182.7,781.6 1184.5,780.9 1186.4,780.2 1188.2,779.5 1190.0,778.8 1191.9,778.0 1193.7,777.2 1195.6,776.3 1197.4,775.5 1199.3,774.6 1201.1,773.6 1202.9,772.7 1204.8,771.7 1206.6,770.7 1208.5,769.7 1210.3,768.7 1212.2,767.7 1214.0,766.6 1215.8,765.6 1217.7,764.5 1219.5,763.5 1221.4,762.4 1223.2,761.3 1225.1,760.3 1226.9,759.2 1228.7,758.2 1230.6,757.1 1232.4,756.1 1234.3,755.1 1236.1,754.1 1238.0,753.2 1239.8,752.2 1241.7,751.3 1243.5,750.4 1245.3,749.5 1247.2,748.6 1249.0,747.8 1250.9,747.0 1252.7,746.3 1254.6,745.6 1256.4,744.9 1258.2,744.3 1260.1,743.7 1261.9,743.2 1263.8,742.7 1265.6,742.3 1267.5,741.8 1269.3,741.5 1271.1,741.1 1273.0,740.8 1274.8,740.6 1276.7,740.3 1278.5,740.1 1280.4,739.9 1282.2,739.8 1284.0,739.6 1285.9,739.5 1287.7,739.4 1289.6,739.3 1291.4,739.2 1293.3,739.1 1295.1,739.1 1296.9,739.0 1298.8,739.0 1300.6,738.9 1302.5,738.8 1304.3,738.8 1306.2,738.7 1308.0,738.7 1309.8,738.6 1311.7,738.5 1313.5,738.4 1315.4,738.3 1317.2,738.1 1319.1,738.0 1320.9,737.8 1322.7,737.6 1324.6,737.4 1326.4,737.1 1328.3,736.9 1330.1,736.5 1332.0,736.2 1333.8,735.8 1335.6,735.4 1337.5,735.0 1339.3,734.5 1341.2,734.0 1343.0,733.5 1344.9,733.0 1346.7,732.5 1348.5,732.0 1350.4,731.4 1352.2,730.9 1354.1,730.3 1355.9,729.7 1357.8,729.1 1359.6,728.5 1361.4,727.8 1363.3,727.2 1365.1,726.6 1367.0,725.9 1368.8,725.3 1370.7,724.6 1372.5,723.9 1374.3,723.3 1376.2,722.6 1378.0,721.9 1379.9,721.2 1381.7,720.6 1383.6,719.9 1385.4,719.2 1387.2,718.5 1389.1,717.9 1390.9,717.2 1392.8,716.5 1394.6,715.9 1396.5,715.2 1398.3,714.6 1400.1,713.9 1402.0,713.3 1403.8,712.7 1405.7,712.1 1407.5,711.5 1409.4,710.9 1411.2,710.4 1413.0,709.8 1414.9,709.4 1416.7,708.9 1418.6,708.5 1420.4,708.0 1422.2,707.6 1424.1,707.3 1425.9,706.9 1427.8,706.5 1429.6,706.2 1431.4,705.8 1433.3,705.4 1435.1,705.1 1436.9,704.7 1438.8,704.4 1440.6,704.0 1442.4,703.6 1444.3,703.2 1446.1,702.8 1448.0,702.4 1449.8,701.9 1451.6,701.4 1453.5,700.9 1455.3,700.4 1457.2,699.8 1459.0,699.2 1460.9,698.6 1462.7,697.9 1464.5,697.2 1466.4,696.4 1468.2,695.6 1470.1,694.7 1472.0,693.8 1473.8,692.9 1475.7,691.8 1477.5,690.7 1479.4,689.6 1481.2,688.4 1483.1,687.0 1485.1,685.6 1487.0,684.1 1489.0,682.5 1491.1,680.8 1493.2,679.0 1495.3,677.1 1497.4,675.1 1499.5,673.1 1501.7,671.0 1503.9,668.9 1506.1,666.7 1508.3,664.5 1510.5,662.2 1512.7,659.9 1514.8,657.6 1517.0,655.3 1519.2,653.0 1521.3,650.6 1523.5,648.3 1525.6,645.9 1527.7,643.6 1529.7,641.3 1531.7,639.0 1533.7,636.8 1535.7,634.6 1537.6,632.4 1539.4,630.3 1541.2,628.2 1542.9,626.2 1544.6,624.3 1546.2,622.4 1547.8,620.7 1549.3,619.0 1550.7,617.4 1552.0,615.9 1553.3,614.5 1554.4,613.3 1555.5,612.1 1556.5,611.1" fill="none" stroke="#ff0000" stroke-width="5" stroke-linecap="round" stroke-linejoin="round" clip-path="url(#lcclip)"/>
</svg>
<div class="btn" style="left:1650px;top:3px;width:236.4000000000001px;height:52px;line-height:52px"><span style="color:#1c1c36;font-size:13.2px;font-weight:400;display:inline-block;transform:translate(-1.6px,-1.4px) scaleX(0.9199017199017199)">EXIT</span></div>
<div class="btn" style="left:1650px;top:64.5px;width:236.4000000000001px;height:52.0px;line-height:52.0px"><span style="color:#1c1c36;font-size:13.2px;font-weight:400;display:inline-block;transform:translate(-1.6px,-1.4px) scaleX(0.95)">PRINT</span></div>
<div class="btn" style="left:1650px;top:124px;width:236.4000000000001px;height:52.5px;line-height:52.5px"><span style="color:#1c1c36;font-size:13.2px;font-weight:400;display:inline-block;transform:translate(-1.6px,-1.4px) scaleX(0.89503300297903)">SPECTRUM</span></div>
<div class="btn" style="left:1650px;top:184.5px;width:236.4000000000001px;height:52.0px;line-height:52.0px"><span style="color:#1c1c36;font-size:13.2px;font-weight:400;display:inline-block;transform:translate(-1.6px,-1.4px) scaleX(0.985)">Smooth</span></div>
<div class="btn" style="left:1650px;top:246px;width:236.4000000000001px;height:52px;line-height:52px"><span style="color:#1c1c36;font-size:13.2px;font-weight:400;display:inline-block;transform:translate(-1.6px,-1.4px) scaleX(0.95)">Spline</span></div>
<svg width="1912" height="996" viewBox="0 0 1912 996">
<defs><linearGradient id="cbg" x1="0" y1="0" x2="1" y2="1"><stop offset="0" stop-color="#e4e5ea"/><stop offset="0.45" stop-color="#fafafc"/><stop offset="1" stop-color="#ffffff"/></linearGradient></defs>
<rect x="1654.3" y="309.6" width="15.4" height="15.4" fill="#f2f2f5" stroke="#8e91a0" stroke-width="1"/>
<rect x="1656.8" y="312.1" width="10.4" height="10.4" fill="url(#cbg)" stroke="#d2d3da" stroke-width="1"/>
<rect x="1654.3" y="344.7" width="15.4" height="15.4" fill="#f2f2f5" stroke="#8e91a0" stroke-width="1"/>
<rect x="1656.8" y="347.2" width="10.4" height="10.4" fill="url(#cbg)" stroke="#d2d3da" stroke-width="1"/>
<rect x="1654.3" y="380.9" width="15.4" height="15.4" fill="#f2f2f5" stroke="#8e91a0" stroke-width="1"/>
<rect x="1656.8" y="383.4" width="10.4" height="10.4" fill="url(#cbg)" stroke="#d2d3da" stroke-width="1"/>
<path d="M1656.6 388.0 L1658.6 387.0 L1661.6 391.8 L1668.9 378.4 L1670.4 379.2 L1662.2 395.8 L1660.6 395.8 Z" fill="#23233a"/>
<rect x="1654.3" y="413.5" width="15.4" height="15.4" fill="#f2f2f5" stroke="#8e91a0" stroke-width="1"/>
<rect x="1656.8" y="416.0" width="10.4" height="10.4" fill="url(#cbg)" stroke="#d2d3da" stroke-width="1"/>
<rect x="1654.3" y="448.3" width="15.4" height="15.4" fill="#f2f2f5" stroke="#8e91a0" stroke-width="1"/>
<rect x="1656.8" y="450.8" width="10.4" height="10.4" fill="url(#cbg)" stroke="#d2d3da" stroke-width="1"/>
<path d="M1656.6 455.4 L1658.6 454.4 L1661.6 459.2 L1668.9 445.8 L1670.4 446.6 L1662.2 463.2 L1660.6 463.2 Z" fill="#23233a"/>
<rect x="1654.3" y="483.3" width="15.4" height="15.4" fill="#f2f2f5" stroke="#8e91a0" stroke-width="1"/>
<rect x="1656.8" y="485.8" width="10.4" height="10.4" fill="url(#cbg)" stroke="#d2d3da" stroke-width="1"/>
<path d="M1656.6 490.4 L1658.6 489.4 L1661.6 494.2 L1668.9 480.8 L1670.4 481.6 L1662.2 498.2 L1660.6 498.2 Z" fill="#23233a"/>
</svg>
<div class="t" style="left:1674.2px;top:309.6px;font-size:13.2px;line-height:17.2px;color:#1c1c36;font-weight:400;transform:scaleX(0.952);transform-origin:0 50%;">DYNAMIC</div>
<div class="t" style="left:1674.2px;top:344.7px;font-size:13.2px;line-height:17.2px;color:#1c1c36;font-weight:400;transform:scaleX(0.928);transform-origin:0 50%;">OBJECT</div>
<div class="t" style="left:1674.2px;top:380.9px;font-size:13.2px;line-height:17.2px;color:#1c1c36;font-weight:400;transform:scaleX(0.923);transform-origin:0 50%;">SURFACES</div>
<div class="t" style="left:1674.2px;top:413.5px;font-size:13.2px;line-height:17.2px;color:#1c1c36;font-weight:400;transform:scaleX(0.9575);transform-origin:0 50%;">MIN DISPERSION</div>
<div class="t" style="left:1674.2px;top:448.3px;font-size:13.2px;line-height:17.2px;color:#1c1c36;font-weight:400;transform:scaleX(0.9286);transform-origin:0 50%;">N GRAPH</div>
<div class="t" style="left:1674.2px;top:483.3px;font-size:13.2px;line-height:17.2px;color:#1c1c36;font-weight:400;transform:scaleX(0.919);transform-origin:0 50%;">S GRAPH</div>
<div class="t" style="left:1652px;top:517.4px;font-size:13.2px;line-height:17.2px;color:#1c1c36;font-weight:400;transform:scaleX(0.9624);transform-origin:0 50%;">INTENDANCE screening</div>
<svg width="1912" height="996" viewBox="0 0 1912 996">
<defs>
<filter id="b1" x="-10%" y="-10%" width="120%" height="120%"><feGaussianBlur stdDeviation="1.1"/></filter>
<filter id="b2" x="-20%" y="-20%" width="140%" height="140%"><feGaussianBlur stdDeviation="2.6"/></filter>
<filter id="b05" x="-10%" y="-10%" width="120%" height="120%"><feGaussianBlur stdDeviation="0.55"/></filter>
<filter id="tex" x="0" y="0" width="100%" height="100%"><feTurbulence type="fractalNoise" baseFrequency="0.35" numOctaves="2" seed="7" result="n"/><feColorMatrix in="n" type="matrix" values="0 0 0 0 0.45  0 0 0 0 0.25  0 0 0 0 0.1  0.9 0 0 0 -0.38"/><feComposite in2="SourceGraphic" operator="in"/></filter>
<radialGradient id="lensg" cx="0.45" cy="0.42" r="0.65"><stop offset="0" stop-color="#eef3ff"/><stop offset="0.45" stop-color="#b9c9ea"/><stop offset="1" stop-color="#6d80ad"/></radialGradient>
<clipPath id="eyeclip"><rect x="1680.2" y="545" width="176.6" height="176.8"/></clipPath>
<clipPath id="skinclip"><polygon points="1698.4,544.5 1693.7,568.0 1687.2,596.0 1685.7,618.4 1687.2,633.4 1680.1,644.9 1689.1,652.0 1690.6,670.7 1687.2,695.0 1680.1,722.1 1851.9,722.1 1852.7,670.7 1853.8,653.9 1850.8,644.6 1851.2,596.0 1848.9,577.3 1847.1,544.5"/></clipPath>
</defs>
<rect x="1651.5" y="544.2" width="233.6" height="178.2" fill="#efefef" stroke="#6e6e6e" stroke-width="1.2"/>
<rect x="1680.2" y="545" width="176.6" height="176.8" fill="#fefefe"/>
<g clip-path="url(#eyeclip)"><g clip-path="url(#skinclip)">
<rect x="1676" y="540" width="190" height="190" fill="#dca878"/>
<g filter="url(#b2)">
<ellipse cx="1719.0" cy="564.3" rx="35.5" ry="20.5" fill="#e9c4a0" />
<ellipse cx="1689.1" cy="618.4" rx="8.4" ry="48.6" fill="#f1dcc6" />
<ellipse cx="1836.6" cy="620.3" rx="16.8" ry="35.5" fill="#edd2b2" />
<ellipse cx="1773.1" cy="571.7" rx="56.0" ry="8.4" fill="#efd9c2" />
<ellipse cx="1825.4" cy="659.5" rx="22.4" ry="13.1" fill="#e8c8a6" />
<ellipse cx="1840.3" cy="594.2" rx="14.9" ry="7.1" fill="#c58454" />
<ellipse cx="1834.7" cy="624.0" rx="13.1" ry="13.1" fill="#f0dcc4" />
<ellipse cx="1836.6" cy="700.6" rx="20.5" ry="6.3" fill="#ad6c3c" />
<ellipse cx="1713.3" cy="698.7" rx="31.7" ry="16.8" fill="#d79f70" />
<ellipse cx="1780.6" cy="713.7" rx="61.6" ry="9.3" fill="#d29a68" />
<path d="M1732.0 698.7 Q1791.8 713.7 1851.5 693.1" stroke="#b07040" stroke-width="7" fill="none"/>
<path d="M1700.3 670.7 Q1709.6 700.6 1737.6 704.3" stroke="#c88a5a" stroke-width="5" fill="none"/>
</g>
<g filter="url(#b1)">
<polygon points="1765.6,542.8 1851.5,542.8 1850.6,578.3 1836.6,572.7 1806.7,560.9 1780.6,551.6" fill="#40200f"/>
<polygon points="1806.7,547.5 1849.7,547.5 1849.7,571.7 1829.1,562.4" fill="#7a3c20"/>
<polygon points="1767.5,542.8 1806.7,542.8 1817.9,553.1 1795.5,554.9 1780.6,550.3" fill="#1c0c08"/>
<path d="M1704.0 551.2 Q1692.8 588.6 1698.4 627.8" stroke="#c8905e" stroke-width="2.2" fill="none"/>
<path d="M1732.0 556.8 Q1707.7 577.3 1704.0 607.2" stroke="#cf9866" stroke-width="2" fill="none"/>
<path d="M1680.1 645.5 L1698.4 647.9 L1711.5 644.6" stroke="#f6efe8" stroke-width="1.6" fill="none"/>
<path d="M1820.7 640.8 Q1834.7 655.8 1853.4 659.5" stroke="#f4e6d6" stroke-width="2.2" fill="none"/>
<path d="M1720.8 594.2 Q1704.0 629.6 1720.8 678.2" stroke="#8a4a2a" stroke-width="1.8" fill="none"/>
</g>
<rect x="1676" y="540" width="190" height="190" fill="#000" filter="url(#tex)" opacity="0.55"/>
</g>
<g filter="url(#b05)">
<ellipse cx="1771.2" cy="634.3" rx="47.4" ry="62.4" fill="#d9d5d8" />
<ellipse cx="1717.5" cy="633.4" rx="9.3" ry="28.0" fill="#3f3c50" />
<ellipse cx="1771.6" cy="634.3" rx="44.8" ry="60.1" fill="#050305" />
<ellipse cx="1727.5" cy="632.8" rx="13.1" ry="23.9" fill="url(#lensg)" />
</g>
<g filter="url(#b1)">
<ellipse cx="1782.4" cy="627.8" rx="9.3" ry="15.9" fill="#3c4a70" opacity="0.7"/>
<ellipse cx="1763.8" cy="633.4" rx="9.3" ry="20.5" fill="#1c2238" opacity="0.8"/>
<ellipse cx="1788.0" cy="643.6" rx="6.7" ry="4.9" fill="#5c6c96" opacity="0.55"/>
<line x1="1754.4" y1="618.4" x2="1753.3" y2="652.0" stroke="#05050a" stroke-width="1.2"/>
<line x1="1761.0" y1="618.4" x2="1759.8" y2="652.0" stroke="#05050a" stroke-width="1.2"/>
<line x1="1767.5" y1="618.4" x2="1766.4" y2="652.0" stroke="#05050a" stroke-width="1.2"/>
<line x1="1774.0" y1="618.4" x2="1772.9" y2="652.0" stroke="#05050a" stroke-width="1.2"/>
</g>
</g>
<path d="M1836.2 578.6 L1839.5 585.1 L1832.9 585.1 Z" fill="#6a1a80"/><rect x="1833.8" y="582.3" width="4.8" height="1.5" fill="#ff8400"/><rect x="1833.0" y="584.0" width="6.4" height="1.4" fill="#240a0a"/>
<path d="M1761.9 583.5 L1765.2 590.0 L1758.6 590.0 Z" fill="#6a1a80"/><rect x="1759.5" y="587.2" width="4.8" height="1.5" fill="#ff8400"/><rect x="1758.7" y="588.9" width="6.4" height="1.4" fill="#240a0a"/>
<path d="M1727.0 593.4 L1730.3 599.9 L1723.7 599.9 Z" fill="#6a1a80"/><rect x="1724.6" y="597.1" width="4.8" height="1.5" fill="#ff8400"/><rect x="1723.8" y="598.8" width="6.4" height="1.4" fill="#240a0a"/>
<path d="M1716.1 599.9 L1719.4 606.4 L1712.8 606.4 Z" fill="#6a1a80"/><rect x="1713.7" y="603.6" width="4.8" height="1.5" fill="#ff8400"/><rect x="1712.9" y="605.3" width="6.4" height="1.4" fill="#240a0a"/>
<path d="M1724.6 602.1 L1727.9 608.6 L1721.3 608.6 Z" fill="#6a1a80"/><rect x="1722.2" y="605.8" width="4.8" height="1.5" fill="#ff8400"/><rect x="1721.4" y="607.5" width="6.4" height="1.4" fill="#240a0a"/>
<path d="M1708.7 612.0 L1712.0 618.5 L1705.4 618.5 Z" fill="#6a1a80"/><rect x="1706.3" y="615.7" width="4.8" height="1.5" fill="#ff8400"/><rect x="1705.5" y="617.4" width="6.4" height="1.4" fill="#240a0a"/>
<path d="M1725.9 611.8 L1729.2 618.3 L1722.6 618.3 Z" fill="#6a1a80"/><rect x="1723.5" y="615.5" width="4.8" height="1.5" fill="#ff8400"/><rect x="1722.7" y="617.2" width="6.4" height="1.4" fill="#240a0a"/>
<path d="M1766.9 607.2 L1770.2 613.7 L1763.6 613.7 Z" fill="#6a1a80"/><rect x="1764.5" y="610.9" width="4.8" height="1.5" fill="#ff8400"/><rect x="1763.7" y="612.6" width="6.4" height="1.4" fill="#240a0a"/>
<path d="M1806.0 609.6 L1809.3 616.1 L1802.7 616.1 Z" fill="#6a1a80"/><rect x="1803.6" y="613.3" width="4.8" height="1.5" fill="#ff8400"/><rect x="1802.8" y="615.0" width="6.4" height="1.4" fill="#240a0a"/>
<path d="M1748.5 617.3 L1751.8 623.8 L1745.2 623.8 Z" fill="#6a1a80"/><rect x="1746.1" y="621.0" width="4.8" height="1.5" fill="#ff8400"/><rect x="1745.3" y="622.7" width="6.4" height="1.4" fill="#240a0a"/>
<path d="M1788.2 619.7 L1791.5 626.2 L1784.9 626.2 Z" fill="#6a1a80"/><rect x="1785.8" y="623.4" width="4.8" height="1.5" fill="#ff8400"/><rect x="1785.0" y="625.1" width="6.4" height="1.4" fill="#240a0a"/>
<path d="M1733.5 623.4 L1736.8 629.9 L1730.2 629.9 Z" fill="#6a1a80"/><rect x="1731.1" y="627.1" width="4.8" height="1.5" fill="#ff8400"/><rect x="1730.3" y="628.8" width="6.4" height="1.4" fill="#240a0a"/>
<path d="M1704.9 627.5 L1708.2 634.0 L1701.6 634.0 Z" fill="#6a1a80"/><rect x="1702.5" y="631.2" width="4.8" height="1.5" fill="#ff8400"/><rect x="1701.7" y="632.9" width="6.4" height="1.4" fill="#240a0a"/>
<path d="M1688.7 637.2 L1692.0 643.7 L1685.4 643.7 Z" fill="#6a1a80"/><rect x="1686.3" y="640.9" width="4.8" height="1.5" fill="#ff8400"/><rect x="1685.5" y="642.6" width="6.4" height="1.4" fill="#240a0a"/>
<path d="M1710.9 636.3 L1714.2 642.8 L1707.6 642.8 Z" fill="#6a1a80"/><rect x="1708.5" y="640.0" width="4.8" height="1.5" fill="#ff8400"/><rect x="1707.7" y="641.7" width="6.4" height="1.4" fill="#240a0a"/>
<path d="M1733.5 638.4 L1736.8 644.9 L1730.2 644.9 Z" fill="#6a1a80"/><rect x="1731.1" y="642.1" width="4.8" height="1.5" fill="#ff8400"/><rect x="1730.3" y="643.8" width="6.4" height="1.4" fill="#240a0a"/>
<path d="M1769.9 633.5 L1773.2 640.0 L1766.6 640.0 Z" fill="#6a1a80"/><rect x="1767.5" y="637.2" width="4.8" height="1.5" fill="#ff8400"/><rect x="1766.7" y="638.9" width="6.4" height="1.4" fill="#240a0a"/>
<path d="M1723.6 644.7 L1726.9 651.2 L1720.3 651.2 Z" fill="#6a1a80"/><rect x="1721.2" y="648.4" width="4.8" height="1.5" fill="#ff8400"/><rect x="1720.4" y="650.1" width="6.4" height="1.4" fill="#240a0a"/>
<path d="M1832.5 641.0 L1835.8 647.5 L1829.2 647.5 Z" fill="#6a1a80"/><rect x="1830.1" y="644.7" width="4.8" height="1.5" fill="#ff8400"/><rect x="1829.3" y="646.4" width="6.4" height="1.4" fill="#240a0a"/>
<path d="M1841.3 639.5 L1844.6 646.0 L1838.0 646.0 Z" fill="#6a1a80"/><rect x="1838.9" y="643.2" width="4.8" height="1.5" fill="#ff8400"/><rect x="1838.1" y="644.9" width="6.4" height="1.4" fill="#240a0a"/>
<path d="M1842.2 654.6 L1845.5 661.1 L1838.9 661.1 Z" fill="#6a1a80"/><rect x="1839.8" y="658.3" width="4.8" height="1.5" fill="#ff8400"/><rect x="1839.0" y="660.0" width="6.4" height="1.4" fill="#240a0a"/>
<path d="M1688.7 652.2 L1692.0 658.7 L1685.4 658.7 Z" fill="#6a1a80"/><rect x="1686.3" y="655.9" width="4.8" height="1.5" fill="#ff8400"/><rect x="1685.5" y="657.6" width="6.4" height="1.4" fill="#240a0a"/>
<path d="M1703.6 652.2 L1706.9 658.7 L1700.3 658.7 Z" fill="#6a1a80"/><rect x="1701.2" y="655.9" width="4.8" height="1.5" fill="#ff8400"/><rect x="1700.4" y="657.6" width="6.4" height="1.4" fill="#240a0a"/>
<path d="M1774.6 655.9 L1777.9 662.4 L1771.3 662.4 Z" fill="#6a1a80"/><rect x="1772.2" y="659.6" width="4.8" height="1.5" fill="#ff8400"/><rect x="1771.4" y="661.3" width="6.4" height="1.4" fill="#240a0a"/>
<path d="M1711.1 665.6 L1714.4 672.1 L1707.8 672.1 Z" fill="#6a1a80"/><rect x="1708.7" y="669.3" width="4.8" height="1.5" fill="#ff8400"/><rect x="1707.9" y="671.0" width="6.4" height="1.4" fill="#240a0a"/>
<path d="M1725.5 663.4 L1728.8 669.9 L1722.2 669.9 Z" fill="#6a1a80"/><rect x="1723.1" y="667.1" width="4.8" height="1.5" fill="#ff8400"/><rect x="1722.3" y="668.8" width="6.4" height="1.4" fill="#240a0a"/>
<path d="M1848.7 700.2 L1852.0 706.7 L1845.4 706.7 Z" fill="#6a1a80"/><rect x="1846.3" y="703.9" width="4.8" height="1.5" fill="#ff8400"/><rect x="1845.5" y="705.6" width="6.4" height="1.4" fill="#240a0a"/>
<path d="M1814.7 709.7 L1818.0 716.2 L1811.4 716.2 Z" fill="#6a1a80"/><rect x="1812.3" y="713.4" width="4.8" height="1.5" fill="#ff8400"/><rect x="1811.5" y="715.1" width="6.4" height="1.4" fill="#240a0a"/>
<path d="M1749.0 570.6 L1756.2 570.6 L1752.6 577.2 Z" fill="#2222ff"/><rect x="1750.3" y="571.3" width="4.6" height="1.5" fill="#ff2020"/><rect x="1751.3" y="573.0" width="2.6" height="1.4" fill="#f6f4ff"/>
<path d="M1768.9 568.4 L1776.1 568.4 L1772.5 575.0 Z" fill="#2222ff"/><rect x="1770.2" y="569.1" width="4.6" height="1.5" fill="#ff2020"/><rect x="1771.2" y="570.8" width="2.6" height="1.4" fill="#f6f4ff"/>
<path d="M1785.0 574.3 L1792.2 574.3 L1788.6 580.9 Z" fill="#2222ff"/><rect x="1786.3" y="575.0" width="4.6" height="1.5" fill="#ff2020"/><rect x="1787.3" y="576.7" width="2.6" height="1.4" fill="#f6f4ff"/>
<path d="M1730.3 582.4 L1737.5 582.4 L1733.9 589.0 Z" fill="#2222ff"/><rect x="1731.6" y="583.1" width="4.6" height="1.5" fill="#ff2020"/><rect x="1732.6" y="584.8" width="2.6" height="1.4" fill="#f6f4ff"/>
<path d="M1796.4 582.4 L1803.6 582.4 L1800.0 589.0 Z" fill="#2222ff"/><rect x="1797.7" y="583.1" width="4.6" height="1.5" fill="#ff2020"/><rect x="1798.7" y="584.8" width="2.6" height="1.4" fill="#f6f4ff"/>
<path d="M1807.6 593.0 L1814.8 593.0 L1811.2 599.6 Z" fill="#2222ff"/><rect x="1808.9" y="593.7" width="4.6" height="1.5" fill="#ff2020"/><rect x="1809.9" y="595.4" width="2.6" height="1.4" fill="#f6f4ff"/>
<path d="M1815.3 606.7 L1822.5 606.7 L1818.9 613.3 Z" fill="#2222ff"/><rect x="1816.6" y="607.4" width="4.6" height="1.5" fill="#ff2020"/><rect x="1817.6" y="609.1" width="2.6" height="1.4" fill="#f6f4ff"/>
<path d="M1813.8 613.2 L1821.0 613.2 L1817.4 619.8 Z" fill="#2222ff"/><rect x="1815.1" y="613.9" width="4.6" height="1.5" fill="#ff2020"/><rect x="1816.1" y="615.6" width="2.6" height="1.4" fill="#f6f4ff"/>
<path d="M1813.8 636.9 L1821.0 636.9 L1817.4 643.5 Z" fill="#2222ff"/><rect x="1815.1" y="637.6" width="4.6" height="1.5" fill="#ff2020"/><rect x="1816.1" y="639.3" width="2.6" height="1.4" fill="#f6f4ff"/>
<path d="M1795.3 643.1 L1802.5 643.1 L1798.9 649.7 Z" fill="#2222ff"/><rect x="1796.6" y="643.8" width="4.6" height="1.5" fill="#ff2020"/><rect x="1797.6" y="645.5" width="2.6" height="1.4" fill="#f6f4ff"/>
<path d="M1846.4 648.3 L1853.6 648.3 L1850.0 654.9 Z" fill="#2222ff"/><rect x="1847.7" y="649.0" width="4.6" height="1.5" fill="#ff2020"/><rect x="1848.7" y="650.7" width="2.6" height="1.4" fill="#f6f4ff"/>
<path d="M1808.9 654.3 L1816.1 654.3 L1812.5 660.9 Z" fill="#2222ff"/><rect x="1810.2" y="655.0" width="4.6" height="1.5" fill="#ff2020"/><rect x="1811.2" y="656.7" width="2.6" height="1.4" fill="#f6f4ff"/>
<path d="M1806.7 666.4 L1813.9 666.4 L1810.3 673.0 Z" fill="#2222ff"/><rect x="1808.0" y="667.1" width="4.6" height="1.5" fill="#ff2020"/><rect x="1809.0" y="668.8" width="2.6" height="1.4" fill="#f6f4ff"/>
<path d="M1787.8 668.1 L1795.0 668.1 L1791.4 674.7 Z" fill="#2222ff"/><rect x="1789.1" y="668.8" width="4.6" height="1.5" fill="#ff2020"/><rect x="1790.1" y="670.5" width="2.6" height="1.4" fill="#f6f4ff"/>
<path d="M1749.0 672.9 L1756.2 672.9 L1752.6 679.5 Z" fill="#2222ff"/><rect x="1750.3" y="673.6" width="4.6" height="1.5" fill="#ff2020"/><rect x="1751.3" y="675.3" width="2.6" height="1.4" fill="#f6f4ff"/>
<path d="M1768.9 676.3 L1776.1 676.3 L1772.5 682.9 Z" fill="#2222ff"/><rect x="1770.2" y="677.0" width="4.6" height="1.5" fill="#ff2020"/><rect x="1771.2" y="678.7" width="2.6" height="1.4" fill="#f6f4ff"/>
<path d="M1793.0 680.4 L1800.2 680.4 L1796.6 687.0 Z" fill="#2222ff"/><rect x="1794.3" y="681.1" width="4.6" height="1.5" fill="#ff2020"/><rect x="1795.3" y="682.8" width="2.6" height="1.4" fill="#f6f4ff"/>
<path d="M1731.4 681.7 L1738.6 681.7 L1735.0 688.3 Z" fill="#2222ff"/><rect x="1732.7" y="682.4" width="4.6" height="1.5" fill="#ff2020"/><rect x="1733.7" y="684.1" width="2.6" height="1.4" fill="#f6f4ff"/>
<path d="M1779.0 690.5 L1786.2 690.5 L1782.6 697.1 Z" fill="#2222ff"/><rect x="1780.3" y="691.2" width="4.6" height="1.5" fill="#ff2020"/><rect x="1781.3" y="692.9" width="2.6" height="1.4" fill="#f6f4ff"/>
<path d="M1753.6 692.9 L1760.8 692.9 L1757.2 699.5 Z" fill="#2222ff"/><rect x="1754.9" y="693.6" width="4.6" height="1.5" fill="#ff2020"/><rect x="1755.9" y="695.3" width="2.6" height="1.4" fill="#f6f4ff"/>
<path d="M1721.3 668.7 L1728.5 668.7 L1724.9 675.3 Z" fill="#2222ff"/><rect x="1722.6" y="669.4" width="4.6" height="1.5" fill="#ff2020"/><rect x="1723.6" y="671.1" width="2.6" height="1.4" fill="#f6f4ff"/>
<path d="M1768.4 558.3 L1774.0 558.3 L1774.0 562.5 L1771.2 565.3 L1768.4 562.5 Z" fill="#ffee00" stroke="#5a2a7a" stroke-width="1"/>
<path d="M1807.3 567.1 L1812.9 567.1 L1812.9 571.3 L1810.1 574.1 L1807.3 571.3 Z" fill="#ffee00" stroke="#5a2a7a" stroke-width="1"/>
<path d="M1782.1 589.8 L1787.7 589.8 L1787.7 594.0 L1784.9 596.8 L1782.1 594.0 Z" fill="#ffee00" stroke="#5a2a7a" stroke-width="1"/>
<path d="M1699.3 610.6 L1704.9 610.6 L1704.9 614.8 L1702.1 617.6 L1699.3 614.8 Z" fill="#ffee00" stroke="#5a2a7a" stroke-width="1"/>
<path d="M1708.3 619.5 L1713.9 619.5 L1713.9 623.7 L1711.1 626.5 L1708.3 623.7 Z" fill="#ffee00" stroke="#5a2a7a" stroke-width="1"/>
<path d="M1696.0 630.7 L1701.6 630.7 L1701.6 634.9 L1698.8 637.7 L1696.0 634.9 Z" fill="#ffee00" stroke="#5a2a7a" stroke-width="1"/>
<path d="M1714.7 629.6 L1720.3 629.6 L1720.3 633.8 L1717.5 636.6 L1714.7 633.8 Z" fill="#ffee00" stroke="#5a2a7a" stroke-width="1"/>
<path d="M1705.5 643.2 L1711.1 643.2 L1711.1 647.4 L1708.3 650.2 L1705.5 647.4 Z" fill="#ffee00" stroke="#5a2a7a" stroke-width="1"/>
<path d="M1712.0 654.4 L1717.6 654.4 L1717.6 658.6 L1714.8 661.4 L1712.0 658.6 Z" fill="#ffee00" stroke="#5a2a7a" stroke-width="1"/>
<path d="M1722.1 654.4 L1727.7 654.4 L1727.7 658.6 L1724.9 661.4 L1722.1 658.6 Z" fill="#ffee00" stroke="#5a2a7a" stroke-width="1"/>
<path d="M1744.2 647.4 L1749.8 647.4 L1749.8 651.6 L1747.0 654.4 L1744.2 651.6 Z" fill="#ffee00" stroke="#5a2a7a" stroke-width="1"/>
<path d="M1823.2 639.3 L1828.8 639.3 L1828.8 643.5 L1826.0 646.3 L1823.2 643.5 Z" fill="#ffee00" stroke="#5a2a7a" stroke-width="1"/>
<path d="M1839.4 648.3 L1845.0 648.3 L1845.0 652.5 L1842.2 655.3 L1839.4 652.5 Z" fill="#ffee00" stroke="#5a2a7a" stroke-width="1"/>
<path d="M1762.5 710.8 L1768.1 710.8 L1768.1 715.0 L1765.3 717.8 L1762.5 715.0 Z" fill="#ffee00" stroke="#5a2a7a" stroke-width="1"/>
</svg>
<div class="btn" style="left:1650px;top:809px;width:80px;height:62.5px;line-height:62.5px"><span style="color:#ff00ff;font-size:24px;font-weight:700;display:inline-block;transform:translate(0px,-1.2px) scaleX(1.1)">O</span></div>
<div class="btn" style="left:1650px;top:879px;width:80px;height:61.5px;line-height:61.5px"><span style="color:#ff8000;font-size:24px;font-weight:700;display:inline-block;transform:translate(0px,-1.4px) scaleX(1.1)">M</span></div>
<div class="btn" style="left:1650px;top:948px;width:80px;height:62px;line-height:62px"><span style="color:#00ff00;font-size:24px;font-weight:700;display:inline-block;transform:translate(0px,-1.2px) scaleX(1.1)">L</span></div>
<div class="btn" style="left:1739px;top:812px;width:64px;height:198px;line-height:198px"><span style="color:#00ffff;font-size:24px;font-weight:700;display:inline-block;transform:translate(0px,0.8px) scaleX(0.97)">ALL</span></div>
<div class="btn" style="left:1810px;top:809px;width:76.5px;height:62.5px;line-height:62.5px"><span style="color:#ff8080;font-size:24px;font-weight:700;display:inline-block;transform:translate(0px,-1.2px) scaleX(1.1)">A</span></div>
<div class="btn" style="left:1810px;top:879px;width:76.5px;height:61.5px;line-height:61.5px"><span style="color:#0070c0;font-size:24px;font-weight:700;display:inline-block;transform:translate(0px,-1.4px) scaleX(1.1)">V</span></div>
<div class="btn" style="left:1810px;top:948px;width:76.5px;height:62px;line-height:62px"><span style="color:#ffff00;font-size:24px;font-weight:700;display:inline-block;transform:translate(0px,-1.2px) scaleX(1.1)">N</span></div>
</body></html>
